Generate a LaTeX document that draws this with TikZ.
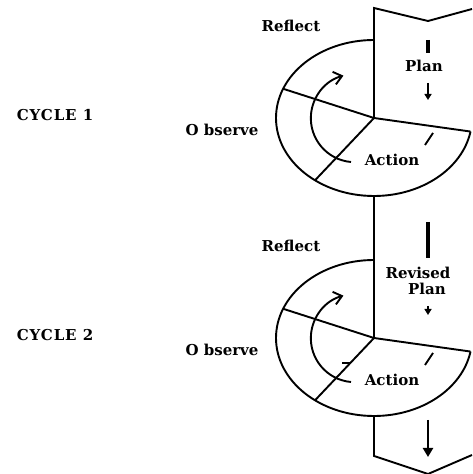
\documentclass[tikz,border=0pt]{standalone}
\usepackage{fontspec}
\setmainfont{DejaVu Serif}
\usetikzlibrary{arrows.meta,calc,positioning}
\begin{document}
\begin{tikzpicture}[x=1pt, y=1pt, line width=1.9pt,
        every node/.style={font=\bfseries\fontsize{15}{17}\selectfont, inner sep=0pt},
        bar/.style={line width=3.4pt},
        downarrow/.style={line width=1.8pt, -{Triangle[length=6pt,width=7pt]}}]
      \useasboundingbox (0,0) rectangle (472,474);
      % the two cycles
      \foreach \c/\y in {1/356,2/136}{
        \coordinate (c\c) at (374,\y);
        \draw (c\c) ++(0,78) arc[start angle=90, end angle=350, x radius=98, y radius=78] coordinate (r\c);
        \draw (c\c) -- (r\c);
        \draw (c\c) -- ++(158:98 and 78);
        \draw (c\c) -- ++(233:98 and 78);
        \draw[-{Straight Barb[length=8pt,width=13pt]}] (c\c) ++(-23,-44) arc[start angle=265, end angle=105, radius=44];
        \draw (c\c) ++(51,-27) -- ++(8,12);
        \node (reflect\c) at ($(c\c)+(-83,92)$) {Reflect};
        \node (observe\c) at ($(c\c)+(-152,-12)$) {O bserve};
        \node (action\c) at ($(c\c)+(18,-42)$) {Action};
        \node (cycle\c) at ($(c\c)+(-319,3)$) {\addfontfeature{LetterSpace=6}CYCLE \c};
      }
      \draw (c2) ++(-32,-25) -- ++(8,0);
      % the strip
      \coordinate (top) at (374,466);
      \coordinate (bottom) at (374,18);
      \draw (472,465) -- (428,453) -- (top) -- (c1);
      \draw (c1) ++(0,-78) -- (c2);
      \draw (c2) ++(0,-78) -- (bottom) -- (428,0) -- (472,19);
      \draw[bar] (428,434) -- (428,421);
      \node (plan) at (424,408) {Plan};
      \draw[downarrow] (428,391) -- (428,374);
      \draw[bar] (428,252) -- (428,216);
      \node (revised) at (418,201) {Revised};
      \node (plan2) at (427,185) {Plan};
      \draw[downarrow] (428,168) -- (428,159);
      \draw[downarrow, line width=2.4pt, -{Triangle[length=9pt,width=10pt]}] (428,54) -- (428,17);
\end{tikzpicture}
\end{document}
